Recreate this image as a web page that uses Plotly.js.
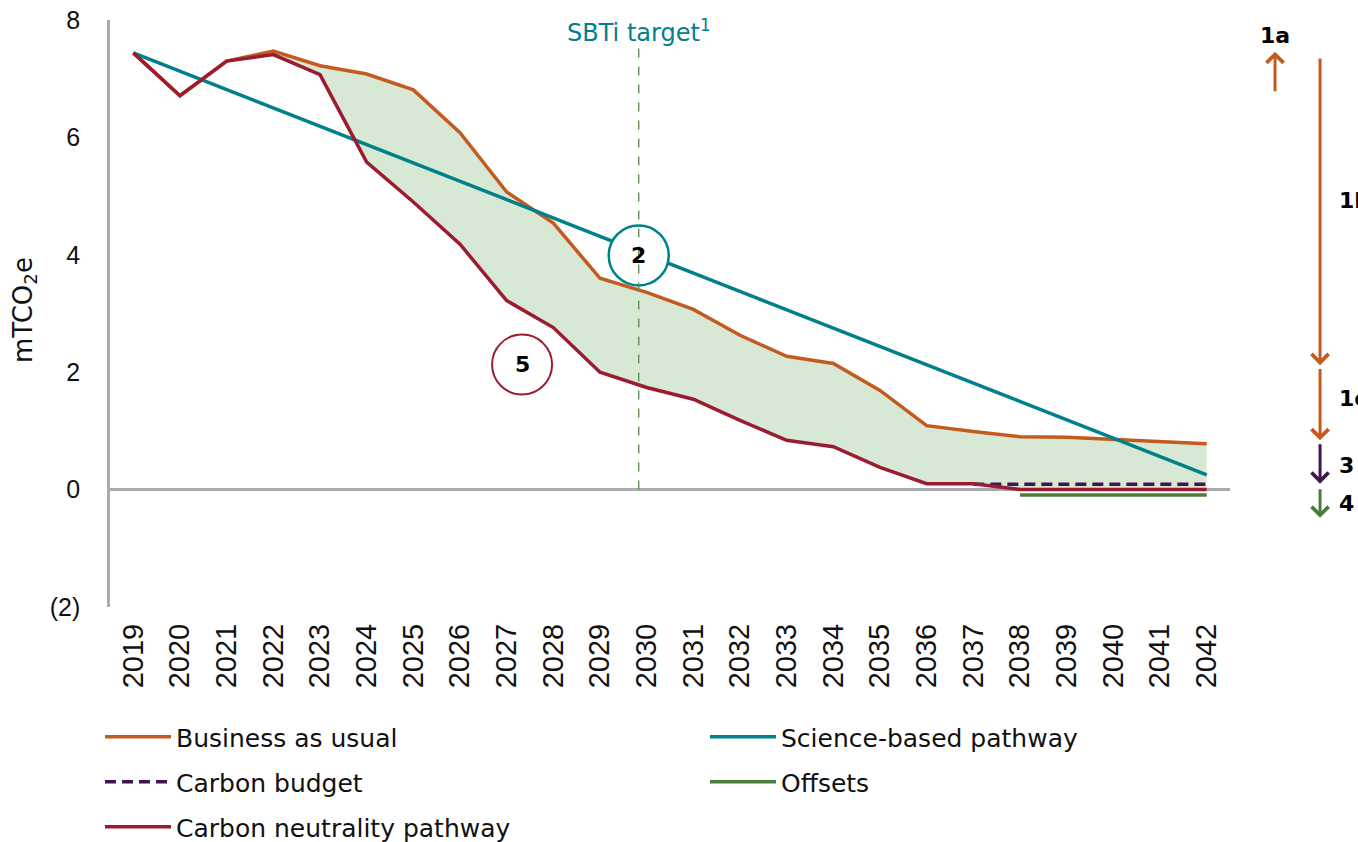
<!DOCTYPE html>
<html><head><meta charset="utf-8">
<script src="https://cdn.plot.ly/plotly-3.0.1.min.js"></script>
<style>html,body{margin:0;padding:0;background:#fff;} #chart{width:1358px;height:842px;}</style>
</head><body><div id="chart"></div>
<script>
const years = ['2019','2020','2021','2022','2023','2024','2025','2026','2027','2028','2029','2030','2031','2032','2033','2034','2035','2036','2037','2038','2039','2040','2041','2042'];
const businessAsUsual = [7.44, 6.71, 7.30, 7.47, 7.22, 7.08, 6.81, 6.08, 5.07, 4.54, 3.60, 3.36, 3.07, 2.63, 2.27, 2.15, 1.69, 1.09, 0.99, 0.90, 0.89, 0.85, 0.82, 0.78];
const carbonNeutrality = [7.44, 6.71, 7.30, 7.41, 7.07, 5.58, 4.90, 4.18, 3.22, 2.76, 2.00, 1.74, 1.54, 1.18, 0.84, 0.73, 0.38, 0.10, 0.10, 0.00, 0.00, 0.00, 0.00, 0.00];
const scienceYears = ['2019', '2042'];
const scienceBased = [7.44, 0.25];
const budgetYears = ['2037','2038','2039','2040','2041','2042'];
const carbonBudget = [0.09, 0.09, 0.09, 0.09, 0.09, 0.09];
const offsetYears = ['2038','2039','2040','2041','2042'];
const offsets = [-0.09, -0.09, -0.09, -0.09, -0.09];
const yTickVals = [-2, 0, 2, 4, 6, 8];
const yTickText = ['(2)', '0', '2', '4', '6', '8'];
const yTitle = 'mTCO<sub>2</sub>e';
const sbtiYear = '2030';

const C = {orange:'#c55a1f', teal:'#00808a', red:'#9b1b30', purple:'#3f1651', green:'#4b7d3a', fill:'#d7e9d4', axis:'#a7abae'};
const FONT = 'DejaVu Sans, sans-serif';
const TICKFONT = 'Liberation Sans Narrow, Liberation Sans, Arial, sans-serif';

const traces = [
  {x: years, y: carbonNeutrality, mode:'lines', line:{width:0}, showlegend:false, hoverinfo:'skip'},
  {x: years, y: businessAsUsual, mode:'none', fill:'tonexty', fillcolor:C.fill, showlegend:false, hoverinfo:'skip'},
  {x: years, y: businessAsUsual, name:'Business as usual', mode:'lines', line:{color:C.orange, width:3.5}, legend:'legend'},
  {x: scienceYears, y: scienceBased, name:'Science-based pathway', mode:'lines', line:{color:C.teal, width:3.5}, legend:'legend2'},
  {x: budgetYears, y: carbonBudget, name:'Carbon budget', mode:'lines', line:{color:C.purple, width:3.5, dash:'11px,6px'}, legend:'legend3'},
  {x: offsetYears, y: offsets, name:'Offsets', mode:'lines', line:{color:C.green, width:3.5}, legend:'legend4'},
  {x: years, y: carbonNeutrality, name:'Carbon neutrality pathway', mode:'lines', line:{color:C.red, width:3.5}, legend:'legend5'}
];

// SBTi marker sits slightly left of the 2030 category centre in the reference
const sbtiPos = years.indexOf(sbtiYear) - 0.17;
const mkLegend = (xc, yc) => ({xref:'container', yref:'container', x:xc, y:yc, xanchor:'left', yanchor:'middle', orientation:'v', font:{family:FONT, size:25, color:'#111'}, itemwidth:66, bgcolor:'rgba(0,0,0,0)'});
const col1 = 100/1358, col2 = 705/1358;
const row1 = (842-737)/842, row2 = (842-782)/842, row3 = (842-827)/842;

const arrowAnn = (xp, head, tail, color) => ({xref:'paper', yref:'y', x:xp, y:head, axref:'pixel', ayref:'y', ax:0, ay:tail, text:'', showarrow:true, arrowhead:4, arrowsize:1.1, arrowwidth:3, arrowcolor:color});
const labelAnn = (xp, y, text, anchor) => ({xref:'paper', yref:'y', x:xp, y:y, text:'<b>'+text+'</b>', showarrow:false, xanchor:anchor, yanchor:'middle', font:{family:FONT, size:22, color:'#000'}});

const layout = {
  width:1358, height:842,
  margin:{l:110, r:128, t:20, b:235, autoexpand:false},
  paper_bgcolor:'#fff', plot_bgcolor:'#fff',
  showlegend:true,
  xaxis:{type:'category', categoryorder:'array', categoryarray:years, range:[-0.5, 23.5], dtick:1, automargin:false, showgrid:false, zeroline:false, showline:false, ticks:'', tickangle:-90, ticklabelstandoff:10, tickfont:{family:TICKFONT, size:29, color:'#111'}},
  yaxis:{range:[-2, 8], automargin:false, tickvals:yTickVals, ticktext:yTickText, showgrid:false, zeroline:true, zerolinecolor:C.axis, zerolinewidth:2.5, showline:true, linecolor:C.axis, linewidth:2.5, ticks:'', ticklabelstandoff:22, tickfont:{family:TICKFONT, size:25, color:'#111'}},
  legend: mkLegend(col1, row1),
  legend2: mkLegend(col2, row1),
  legend3: mkLegend(col1, row2),
  legend4: mkLegend(col2, row2),
  legend5: mkLegend(col1, row3),
  shapes:[
    {type:'circle', xref:'x', yref:'y', xsizemode:'pixel', ysizemode:'pixel', xanchor:sbtiPos, yanchor:3.99, x0:-30, x1:30, y0:-30, y1:30, line:{color:C.teal, width:2.5}, fillcolor:'#fff', layer:'above'},
    {type:'circle', xref:'x', yref:'y', xsizemode:'pixel', ysizemode:'pixel', xanchor:8.33, yanchor:2.13, x0:-30, x1:30, y0:-30, y1:30, line:{color:C.red, width:2}, fillcolor:'#fff', layer:'above'},
    {type:'line', xref:'x', yref:'y', x0:sbtiPos, x1:sbtiPos, y0:0, y1:7.6, line:{color:'#5a8a4a', width:1.3, dash:'dash'}, layer:'above'}
  ],
  annotations:[
    {xref:'paper', yref:'paper', x:-0.0759, y:0.506, text:yTitle, textangle:-90, showarrow:false, xanchor:'center', yanchor:'middle', font:{family:FONT, size:26, color:'#111'}},
    {xref:'x', yref:'y', x:sbtiPos, y:7.82, text:'SBTi target<sup>1</sup>', showarrow:false, font:{family:FONT, size:24, color:C.teal}},
    {xref:'x', yref:'y', x:sbtiPos, y:3.99, text:'<b>2</b>', showarrow:false, font:{family:FONT, size:22, color:'#000'}},
    {xref:'x', yref:'y', x:8.33, y:2.13, text:'<b>5</b>', showarrow:false, font:{family:FONT, size:22, color:'#000'}},
    arrowAnn(1.0402, 7.46, 6.76, C.orange),
    arrowAnn(1.0804, 2.12, 7.37, C.orange),
    arrowAnn(1.0804, 0.84, 2.08, C.orange),
    arrowAnn(1.0804, 0.10, 0.80, C.purple),
    arrowAnn(1.0804, -0.48, 0.03, C.green),
    labelAnn(1.0402, 7.73, '1a', 'center'),
    labelAnn(1.0955, 4.93, '1b', 'left'),
    labelAnn(1.0955, 1.55, '1c', 'left'),
    labelAnn(1.0955, 0.41, '3', 'left'),
    labelAnn(1.0955, -0.24, '4', 'left')
  ]
};

Plotly.newPlot('chart', traces, layout, {displayModeBar:false, responsive:false});
</script>
</body></html>
